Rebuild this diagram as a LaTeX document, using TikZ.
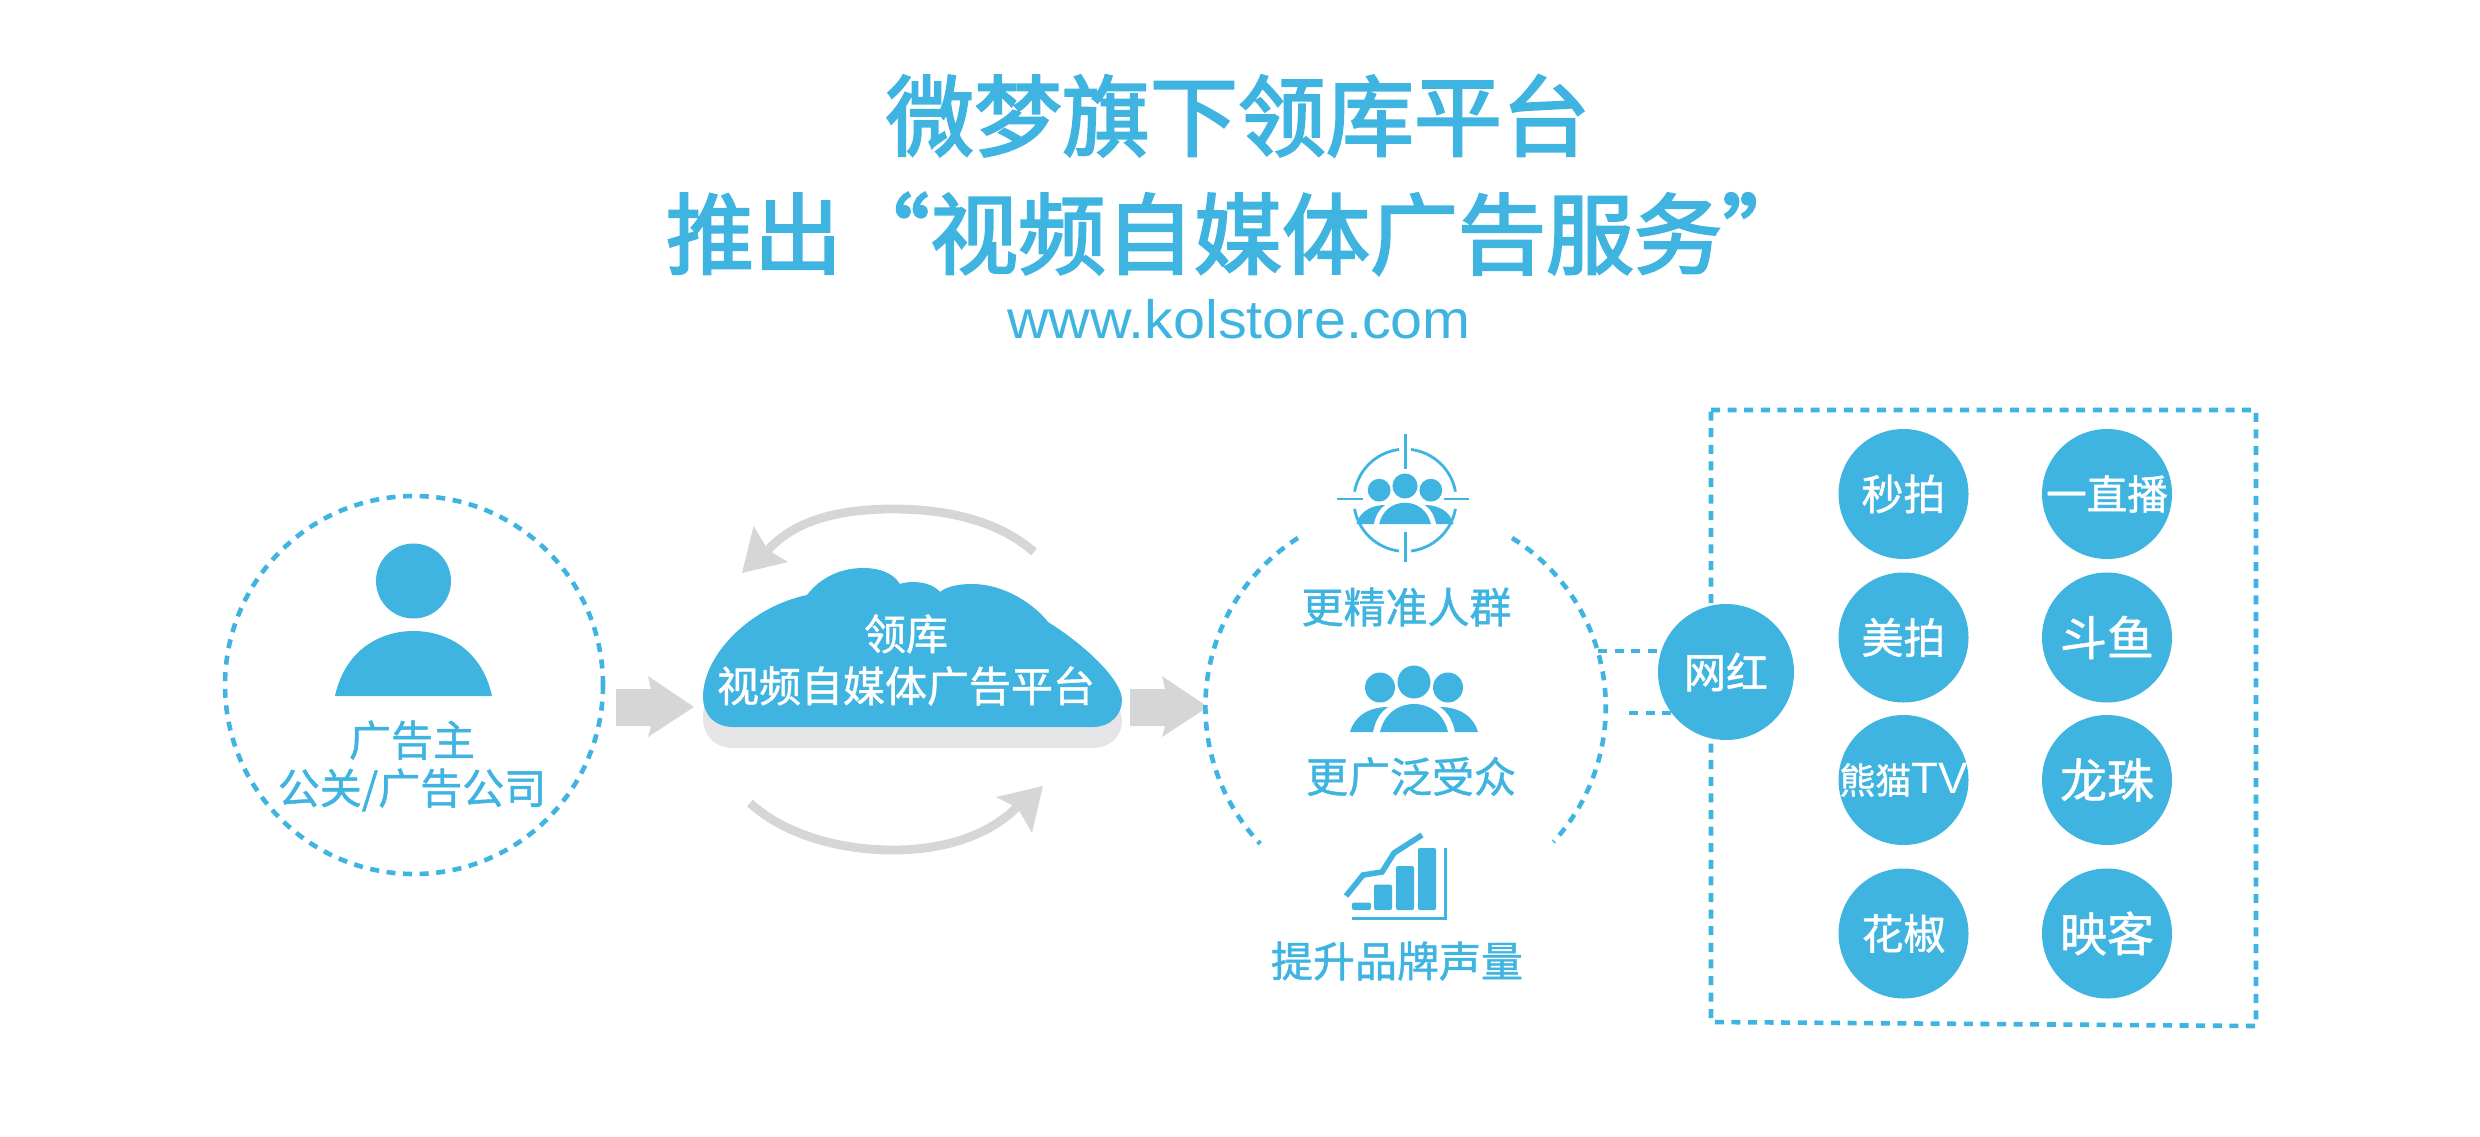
\documentclass[tikz,border=0pt]{standalone}
\usepackage{fontspec}
\usetikzlibrary{backgrounds}
\setmainfont{Noto Sans CJK SC}
\newfontfamily\titlefont[FakeBold=2.6]{Noto Sans CJK SC}
\newfontfamily\bodyfont[FakeBold=1.1]{Noto Sans CJK SC}
\newfontfamily\latinfont[FakeStretch=1.065]{Liberation Sans}
\newfontfamily\tvfont{Liberation Sans}
\definecolor{kblue}{HTML}{3FB4E1}
\definecolor{kgrey}{HTML}{D6D6D6}
\definecolor{kshadow}{HTML}{E5E5E7}
\newcommand{\cloudpath}{(734,727) .. controls (712,727) and (703,712) .. (703,697)
  .. controls (703,655) and (750,607) .. (807,595)
  .. controls (820,578) and (840,568) .. (863,568)
  .. controls (880,568) and (893,573) .. (900,584)
  .. controls (907,581) and (930,580) .. (940,592)
  .. controls (947,586) and (960,584) .. (972,584)
  .. controls (1005,584) and (1035,605) .. (1048,622)
  .. controls (1085,645) and (1122,680) .. (1122,700)
  .. controls (1122,715) and (1110,727) .. (1093,727) -- cycle}
\newcommand{\crowd}{%
  \fill (0,-50) circle [radius=16.5];
  \fill (-34,-44.5) circle [radius=15];
  \fill (34,-44.5) circle [radius=15];
  \fill (-34,0) .. controls (-30,-18) and (-16,-28) .. (0,-28) .. controls (16,-28) and (30,-18) .. (34,0) -- cycle;
  \fill (-64,0) .. controls (-60,-15) and (-46,-25) .. (-26,-25) .. controls (-35,-19) and (-39,-10) .. (-41,0) -- cycle;
  \fill (64,0) .. controls (60,-15) and (46,-25) .. (26,-25) .. controls (35,-19) and (39,-10) .. (41,0) -- cycle;
}
\tikzset{
  x=0.5pt,y=-0.5pt,
  dashline/.style={draw=kblue,line width=2.3pt,dash pattern=on 4.5pt off 3.8pt},
  bluetext/.style={text=kblue,inner sep=0pt,align=center,font=\bodyfont\fontsize{21}{24}\selectfont},
  platform/.style={circle,fill=kblue,text=white,inner sep=0pt,minimum size=65pt,font=\bodyfont\fontsize{21}{24}\selectfont},
  greyarrow/.style={fill=kgrey},
  greycurve/.style={draw=kgrey,line width=4.4pt},
  thinring/.style={line width=1.4pt},
}
\begin{document}
\begin{tikzpicture}
\useasboundingbox (0,0) rectangle (2480,1136);
% title
\node[inner sep=0pt,align=center,text=kblue,font=\titlefont\fontsize{44}{59}\selectfont] (title) at (1238,175) {微梦旗下领库平台\\推出“视频自媒体广告服务”};
\node[inner sep=0pt,anchor=base,text=kblue,font=\latinfont\fontsize{27}{30}\selectfont] (url) at (1239,338) {www.kolstore.com};
% advertiser
\node[circle,dashline,minimum size=189pt,inner sep=0pt] (adv) at (414,685) {};
\fill[kblue] (413.5,581) circle [radius=37.5];
\fill[kblue] (335,696) .. controls (345,650) and (380,631) .. (413.5,631) .. controls (447,631) and (482,650) .. (492,696) -- cycle;
\node[bluetext] (advtext) at (412,766) {广告主\\公关/广告公司};
% grey arrows
\fill[greyarrow] (616,689) -- (651,689) -- (648,676) -- (694,707) -- (648,737) -- (651,726) -- (616,726) -- cycle;
\fill[greyarrow] (1130,689) -- (1165,689) -- (1162,676) -- (1208,707) -- (1162,737) -- (1165,726) -- (1130,726) -- cycle;
% cloud
\begin{scope}[yshift=-10.5pt]
\fill[kshadow] \cloudpath;
\end{scope}
\fill[kblue] \cloudpath;
\node[inner sep=0pt,align=center,text=white,font=\bodyfont\fontsize{21}{26}\selectfont] (cloud) at (906,660) {领库\\视频自媒体广告平台};
% curved arrows
\draw[greycurve] (1034,552) .. controls (1000,522) and (950,509) .. (893,509) .. controls (840,509) and (795,520) .. (768,550);
\fill[greyarrow] (742,573) -- (753.6,526) -- (768,550) -- (788,562) -- cycle;
\draw[greycurve] (750,803) .. controls (785,835) and (840,850) .. (893,850) .. controls (945,850) and (990,835) .. (1018,806);
\fill[greyarrow] (1043,786) -- (996,797) -- (1017.6,808) -- (1032,833) -- cycle;
% dashed arcs
\draw[dashline] (1298,538) arc [start angle=-122.4,end angle=-223.5,radius=199.5];
\draw[dashline] (1512,538) arc [start angle=-58,end angle=42.5,radius=199.5];
% icon 1
\begin{scope}[kblue]
\draw[thinring] (1405.5,434) -- (1405.5,469) (1405.5,532) -- (1405.5,562) (1337,499) -- (1363,499) (1444,499) -- (1469,499);
\draw[thinring] (1399,449.5) arc [start angle=-97,end angle=-170,radius=51.5];
\draw[thinring] (1411,449.5) arc [start angle=-83,end angle=-10,radius=51.5];
\draw[thinring] (1399,551) arc [start angle=97,end angle=170,radius=51.5];
\draw[thinring] (1411,551) arc [start angle=83,end angle=10,radius=51.5];
\begin{scope}[shift={(1405,524)},scale=0.76,fill=kblue]
\crowd
\end{scope}
\begin{scope}[shift={(1414,732)},fill=kblue]
\crowd
\end{scope}
% icon 3
\fill[rounded corners=1pt] (1352,910) rectangle (1371,902.5);
\fill[rounded corners=1pt] (1374,910) rectangle (1392,884.5);
\fill[rounded corners=1pt] (1396,910) rectangle (1414,866);
\fill[rounded corners=1pt] (1418,910) rectangle (1436,848);
\draw[line width=1.5pt] (1352,918) -- (1445,918) -- (1445,848);
\draw[line width=2.8pt] (1346,896) -- (1363,875) -- (1382,872) -- (1394,853) -- (1422,835);
\end{scope}
\node[bluetext] (m1) at (1406.5,607) {更精准人群};
\node[bluetext] (m2) at (1411,776.6) {更广泛受众};
\node[bluetext] (m3) at (1397,961) {提升品牌声量};
% wanghong and platforms
\node[platform,minimum size=68pt] (wh) at (1726,672) {网红};
\node[platform] (p1) at (1903.5,494) {\raisebox{1pt}{秒拍}};
\node[platform,font=\bodyfont\fontsize{20.3}{24}\selectfont] (p2) at (2107,494) {一直播};
\node[platform] (p3) at (1903.5,637.5) {\raisebox{1pt}{美拍}};
\node[platform,font=\bodyfont\fontsize{23.5}{24}\selectfont] (p4) at (2107,637.5) {斗鱼};
\node[platform,minimum size=65pt,font=\bodyfont\fontsize{18}{24}\selectfont] (p5) at (1903.5,780) {\hspace*{-1pt}熊猫{\tvfont\fontsize{22}{24}\selectfont TV}\hspace*{-1pt}};
\node[platform,font=\bodyfont\fontsize{23.5}{24}\selectfont] (p6) at (2107,780) {龙珠};
\node[platform] (p7) at (1903.5,933.5) {\raisebox{1pt}{花椒}};
\node[platform,font=\bodyfont\fontsize{23.5}{24}\selectfont] (p8) at (2107,933.5) {映客};
% dashed rectangle and connectors behind
\coordinate (ct) at (1598,651);
\coordinate (cb) at (1629,713);
\begin{scope}[on background layer]
\draw[dashline] (1711,410) -- (2256,410) -- (2256,1026) -- (1711,1022) -- cycle;
\draw[dashline] (ct) -- (ct -| wh.center);
\draw[dashline] (cb) -- (cb -| wh.center);
\end{scope}
\end{tikzpicture}
\end{document}
